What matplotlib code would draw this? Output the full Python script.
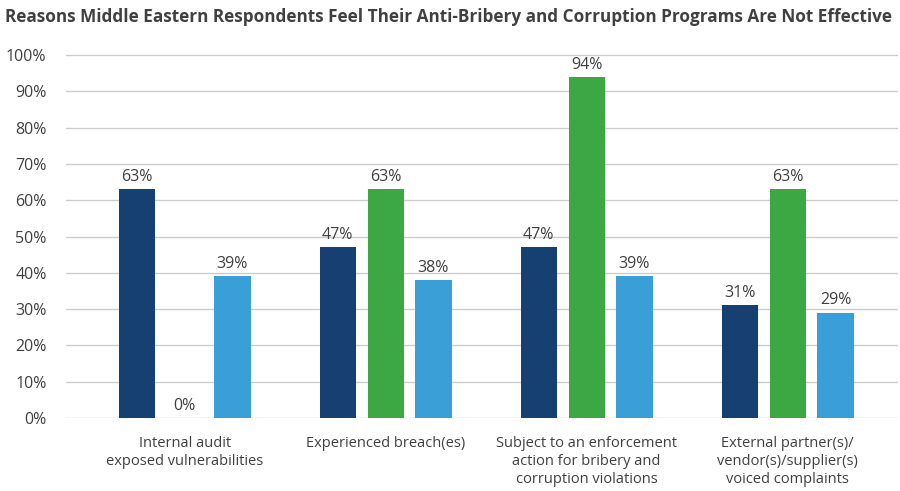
import matplotlib.pyplot as plt
import numpy as np

# reasons given, one group of three bars per reason
categories = [
    "Internal audit\nexposed vulnerabilities",
    "Experienced breach(es)",
    "Subject to an enforcement\naction for bribery and\ncorruption violations",
    "External partner(s)/\nvendor(s)/supplier(s)\nvoiced complaints",
]
series_a = [63, 47, 47, 31]
series_b = [0, 63, 94, 63]
series_c = [39, 38, 39, 29]
yticks = list(range(0, 101, 10))
title = "Reasons Middle Eastern Respondents Feel Their Anti-Bribery and Corruption Programs Are Not Effective"

colors = ["#163f72", "#3ba844", "#3a9fd6"]
text_color = "#404040"

plt.rcParams['font.family'] = ['Open Sans', 'DejaVu Sans']

fig = plt.figure(figsize=(9, 4.91), dpi=100)
ax = fig.add_axes([0.0733, 0.1487, 0.9247, 0.7413])

x = np.arange(len(categories))
width = 0.18
offset = 0.238

for i, (vals, col) in enumerate(zip([series_a, series_b, series_c], colors)):
    pos = x + (i - 1) * offset
    bars = ax.bar(pos, vals, width, color=col, zorder=3)
    for p, v in zip(pos, vals):
        ax.text(p, v + 1.2, f"{v}%", ha='center', va='bottom',
                fontsize=11.5, color=text_color)

ax.set_xlim(-0.59, 3.55)
ax.set_ylim(0, 100.3)
ax.set_yticks(yticks)
ax.set_yticklabels([f"{t}%" for t in yticks], fontsize=11.5, color=text_color)
ax.set_xticks(x)
ax.set_xticklabels(categories, fontsize=10.5, color=text_color, linespacing=1.25)
ax.tick_params(axis='y', length=0, pad=14)
ax.tick_params(axis='x', length=0, pad=13)
ax.grid(axis='y', color='#cccccc', linewidth=1, zorder=0)
for s in ax.spines.values():
    s.set_visible(False)

fig.text(0.006, 0.965, title, fontsize=12.3, fontweight='bold',
         color=text_color, ha='left', va='center')

fig.savefig("out.png", dpi=100)
